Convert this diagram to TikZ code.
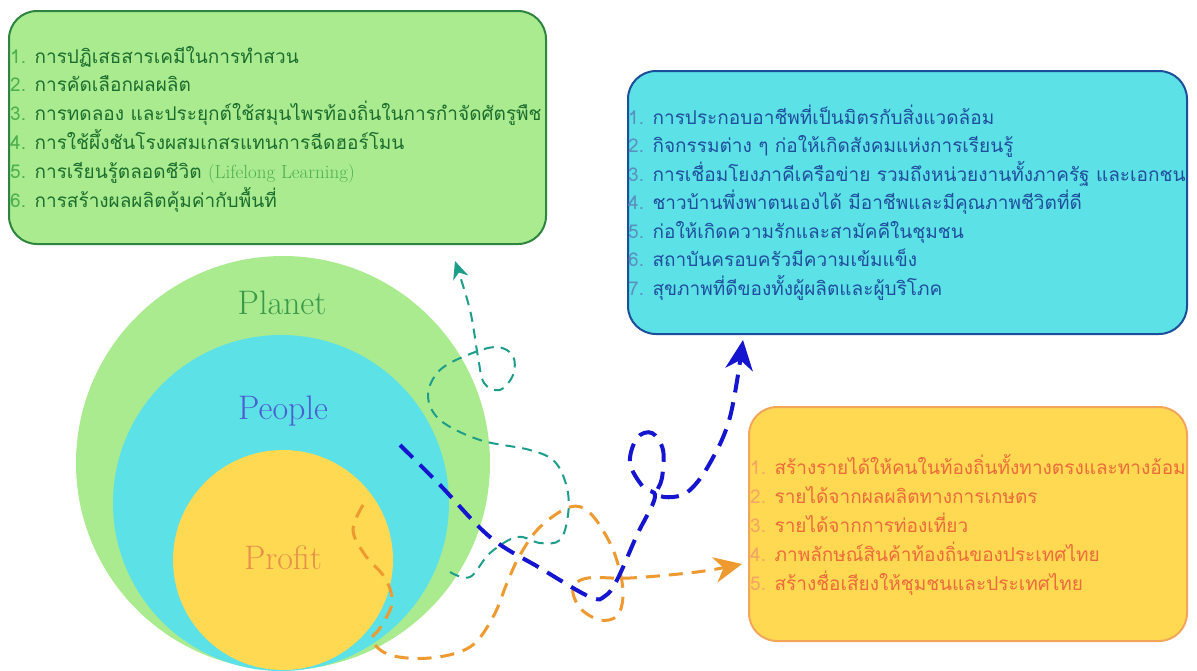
\documentclass[tikz,border=0pt]{standalone}
\usepackage{fontspec}
\usetikzlibrary{arrows.meta}
\newfontfamily\thai[Script=Thai]{Loma}
\definecolor{planetc}{HTML}{ABEB8F}
\definecolor{peoplec}{HTML}{5CE1E6}
\definecolor{profitc}{HTML}{FFD952}
\definecolor{gborder}{HTML}{2E8540}
\definecolor{bborder}{HTML}{1B4F9C}
\definecolor{yborder}{HTML}{F2A65A}
\definecolor{gtextc}{HTML}{1A6E2E}
\definecolor{gnumc}{HTML}{4CB050}
\definecolor{btextc}{HTML}{1F4E9E}
\definecolor{bnumc}{HTML}{5A8FC0}
\definecolor{ytextc}{HTML}{EE6B3B}
\definecolor{ynumc}{HTML}{F5A565}
\definecolor{tealc}{HTML}{1E9E8A}
\definecolor{bluec}{HTML}{1515D0}
\definecolor{orangec}{HTML}{EE9A30}
\definecolor{planettxt}{HTML}{3A9A4A}
\definecolor{peopletxt}{HTML}{4A5FD0}
\definecolor{profittxt}{HTML}{E8904A}
\newcommand\gn[1]{{\color{gnumc}#1}}
\newcommand\bn[1]{{\color{bnumc}#1}}
\newcommand\yn[1]{{\color{ynumc}#1}}
\begin{document}
\begin{tikzpicture}[x=1pt,y=-1pt,
  box/.style={rectangle, rounded corners=28pt, line width=2pt, anchor=north west, inner sep=0pt},
  disc/.style={circle, inner sep=0pt},
  lbl/.style={font=\fontsize{34}{40}\selectfont},
  gtext/.style={anchor=base west, inner sep=0pt, text=gtextc, font=\thai\fontsize{19}{24}\selectfont},
  btext/.style={anchor=base west, inner sep=0pt, text=btextc, font=\thai\fontsize{19}{24}\selectfont},
  ytext/.style={anchor=base west, inner sep=0pt, text=ytextc, font=\thai\fontsize{19}{24}\selectfont},
  tealline/.style={draw=tealc, line width=2pt, dash pattern=on 10pt off 7pt, -{Stealth[length=18pt,width=16pt,fill=tealc,line width=0pt]}},
  blueline/.style={draw=bluec, line width=4pt, dash pattern=on 18pt off 10pt, -{Stealth[length=30pt,width=28pt,fill=bluec,line width=0pt]}},
  orangeline/.style={draw=orangec, line width=3pt, dash pattern=on 14pt off 9pt, -{Stealth[length=28pt,width=26pt,fill=orangec,line width=0pt]}}
]
\useasboundingbox (0,0) rectangle (1197,670);
\fill[white] (0,0) rectangle (1197,670);

% boxes
\node[box, fill=planetc, draw=gborder, minimum width=537pt, minimum height=233pt] (gbox) at (8,10) {};
\node[box, fill=peoplec, draw=bborder, minimum width=559pt, minimum height=263pt] (bbox) at (627,70) {};
\node[box, fill=profitc, draw=yborder, minimum width=438pt, minimum height=234pt] (ybox) at (748,406) {};

% circles
\node[disc, fill=planetc, minimum size=414pt] (planet) at (283,463) {};
\node[disc, fill=peoplec, minimum size=336pt] (people) at (281,503) {};
\node[disc, fill=profitc, minimum size=220pt] (profit) at (283,560) {};
\node[lbl, text=planettxt] (planetlbl) at (282,303) {Planet};
\node[lbl, text=peopletxt] (peoplelbl) at (283,411) {People};
\node[lbl, text=profittxt] (profitlbl) at (283,558) {Profit};

% green list
\foreach \t [count=\i] in {
  {\gn{1.} การปฏิเสธสารเคมีในการทำสวน},
  {\gn{2.} การคัดเลือกผลผลิต},
  {\gn{3.} การทดลอง และประยุกต์ใช้สมุนไพรท้องถิ่นในการกำจัดศัตรูพืช},
  {\gn{4.} การใช้ผึ้งชันโรงผสมเกสรแทนการฉีดฮอร์โมน},
  {\gn{5.} การเรียนรู้ตลอดชีวิต {\color{gnumc}\rmfamily (Lifelong Learning)}},
  {\gn{6.} การสร้างผลผลิตคุ้มค่ากับพื้นที่}}
  \node[gtext] (g\i) at (10,{63+28.9*(\i-1)}) {\t};

% blue list
\foreach \t [count=\i] in {
  {\bn{1.} การประกอบอาชีพที่เป็นมิตรกับสิ่งแวดล้อม},
  {\bn{2.} กิจกรรมต่าง ๆ ก่อให้เกิดสังคมแห่งการเรียนรู้},
  {\bn{3.} การเชื่อมโยงภาคีเครือข่าย รวมถึงหน่วยงานทั้งภาครัฐ และเอกชน},
  {\bn{4.} ชาวบ้านพึ่งพาตนเองได้ มีอาชีพและมีคุณภาพชีวิตที่ดี},
  {\bn{5.} ก่อให้เกิดความรักและสามัคคีในชุมชน},
  {\bn{6.} สถาบันครอบครัวมีความเข้มแข็ง},
  {\bn{7.} สุขภาพที่ดีของทั้งผู้ผลิตและผู้บริโภค}}
  \node[btext] (b\i) at (628,{124+28.5*(\i-1)}) {\t};

% yellow list
\foreach \t [count=\i] in {
  {\yn{1.} สร้างรายได้ให้คนในท้องถิ่นทั้งทางตรงและทางอ้อม},
  {\yn{2.} รายได้จากผลผลิตทางการเกษตร},
  {\yn{3.} รายได้จากการท่องเที่ยว},
  {\yn{4.} ภาพลักษณ์สินค้าท้องถิ่นของประเทศไทย},
  {\yn{5.} สร้างชื่อเสียงให้ชุมชนและประเทศไทย}}
  \node[ytext] (y\i) at (750,{474+29*(\i-1)}) {\t};

% connectors
\coordinate (tealStart) at (450,572);
\coordinate (tealEnd) at (455,261);
\coordinate (blueStart) at (400,445);
\coordinate (blueEnd) at (743,340);
\coordinate (orangeStart) at (363,505);
\coordinate (orangeEnd) at (742,564);

\draw[tealline] plot[smooth, tension=0.6] coordinates {(tealStart) (470,577) (490,553) (517,537) (540,543) (560,540) (568,515) (567,488) (555,462) (530,450) (480,440) (440,420) (428,395) (440,370) (470,354) (497,347) (513,356) (513,375) (500,390) (484,383) (478,357) (470,310) (tealEnd)};

\draw[orangeline] plot[smooth, tension=0.6] coordinates {(orangeStart) (353,530) (365,555) (385,578) (392,603) (380,628) (372,640) (390,655) (430,658) (470,647) (493,617) (507,583) (520,555) (540,527) (570,507) (590,513) (610,543) (620,572) (623,597) (617,616) (600,620) (580,608) (573,588) (588,578) (630,578) (697,572) (orangeEnd)};

\draw[blueline] plot[smooth, tension=0.6] coordinates {(blueStart) (440,485) (490,537) (540,568) (590,597) (605,596) (617,580) (637,535) (655,497) (643,487) (630,463) (637,438) (652,433) (663,450) (662,478) (657,494) (673,497) (690,490) (710,463) (730,417) (blueEnd)};
\end{tikzpicture}
\end{document}
